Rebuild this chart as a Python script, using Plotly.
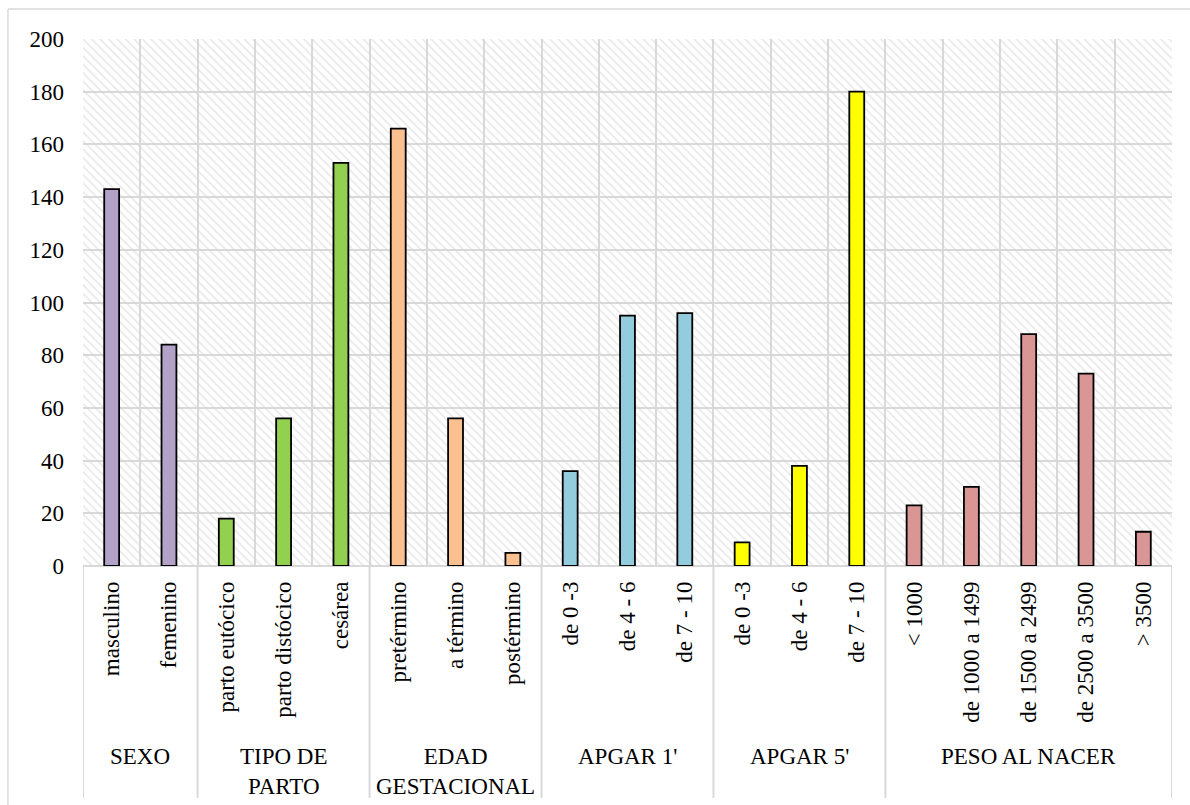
import plotly.graph_objects as go

# Categories and counts per group
sexo_labels = ["masculino", "femenino"]
sexo_values = [143, 84]

parto_labels = ["parto eutócico", "parto distócico", "cesárea"]
parto_values = [18, 56, 153]

edad_labels = ["pretérmino", "a término", "postérmino"]
edad_values = [166, 56, 5]

apgar1_labels = ["de 0 -3", "de 4 - 6", "de 7 - 10"]
apgar1_values = [36, 95, 96]

apgar5_labels = ["de 0 -3", "de 4 - 6", "de 7 - 10"]
apgar5_values = [9, 38, 180]

peso_labels = ["< 1000", "de 1000 a 1499", "de 1500 a 2499", "de 2500 a 3500", "> 3500"]
peso_values = [23, 30, 88, 73, 13]

group_names = ["SEXO", "TIPO DE<br>PARTO", "EDAD<br>GESTACIONAL", "APGAR 1'", "APGAR 5'", "PESO AL NACER"]
y_ticks = [0, 20, 40, 60, 80, 100, 120, 140, 160, 180, 200]

groups = [
    (sexo_labels, sexo_values, "#B3A2C7"),
    (parto_labels, parto_values, "#92D050"),
    (edad_labels, edad_values, "#FAC090"),
    (apgar1_labels, apgar1_values, "#93CDDD"),
    (apgar5_labels, apgar5_values, "#FFFF00"),
    (peso_labels, peso_values, "#D99694"),
]

FONT = "'Liberation Serif', 'Times New Roman', serif"
GRID = "#d9d9d9"
n_total = sum(len(g[0]) for g in groups)
y_max = y_ticks[-1]

fig = go.Figure()

# hatched plot-area background
fig.add_trace(go.Bar(
    x=[(n_total - 1) / 2], y=[y_max], width=[n_total],
    marker=dict(color="rgba(0,0,0,0)", line=dict(width=0),
                pattern=dict(shape="\\", fgcolor="#d4d4d4", bgcolor="rgba(0,0,0,0)",
                             size=6, solidity=0.3)),
    hoverinfo="skip", showlegend=False,
))

tick_vals, tick_text = [], []
shapes, annotations = [], []
start = 0
boundaries = [-0.5]
for (labels, values, color), gname in zip(groups, group_names):
    xs = list(range(start, start + len(labels)))
    fig.add_trace(go.Bar(
        x=xs, y=values, width=0.26,
        marker=dict(color=color, line=dict(color="black", width=1.8)),
        showlegend=False,
    ))
    tick_vals += xs
    tick_text += labels
    annotations.append(dict(
        x=(xs[0] + xs[-1]) / 2, y=-0.334, xref="x", yref="paper",
        text=gname, showarrow=False, yanchor="top", xanchor="center",
        font=dict(family=FONT, size=23, color="black"),
    ))
    start += len(labels)
    boundaries.append(start - 0.5)

# group dividers beneath the axis
for b in boundaries:
    shapes.append(dict(type="line", xref="x", yref="paper", x0=b, x1=b,
                       y0=0, y1=-0.44, line=dict(color=GRID, width=2)))

# chart frame (left and top edges)
shapes.append(dict(type="line", xref="paper", yref="paper", x0=-0.0689, x1=1.1,
                   y0=1.0569, y1=1.0569, line=dict(color=GRID, width=1.5)))
shapes.append(dict(type="line", xref="paper", yref="paper", x0=-0.0689, x1=-0.0689,
                   y0=1.0569, y1=-0.6, line=dict(color=GRID, width=1.5)))

fig.update_layout(
    width=1190, height=805,
    margin=dict(l=83, r=18, t=39, b=239),
    paper_bgcolor="white", plot_bgcolor="white",
    barmode="overlay",
    shapes=shapes, annotations=annotations,
    font=dict(family=FONT, size=23, color="black"),
    hovermode=False,
)
fig.update_xaxes(
    range=[-0.5, n_total - 0.5],
    tickmode="array", tickvals=tick_vals, ticktext=tick_text,
    tickangle=-90, ticks="", showgrid=False, zeroline=False,
    ticklabelstandoff=10,
    tickfont=dict(family=FONT, size=23, color="black"),
    minor=dict(tickmode="linear", tick0=-0.5, dtick=1, showgrid=True,
               gridcolor=GRID, gridwidth=2, ticks=""),
    showline=False,
)
fig.update_yaxes(
    range=[0, y_max], tickmode="array", tickvals=y_ticks,
    showgrid=True, gridcolor=GRID, gridwidth=2,
    zeroline=True, zerolinecolor=GRID, zerolinewidth=2,
    ticks="", ticklabelstandoff=18,
    tickfont=dict(family=FONT, size=23, color="black"),
)

fig.write_html("out.html")
